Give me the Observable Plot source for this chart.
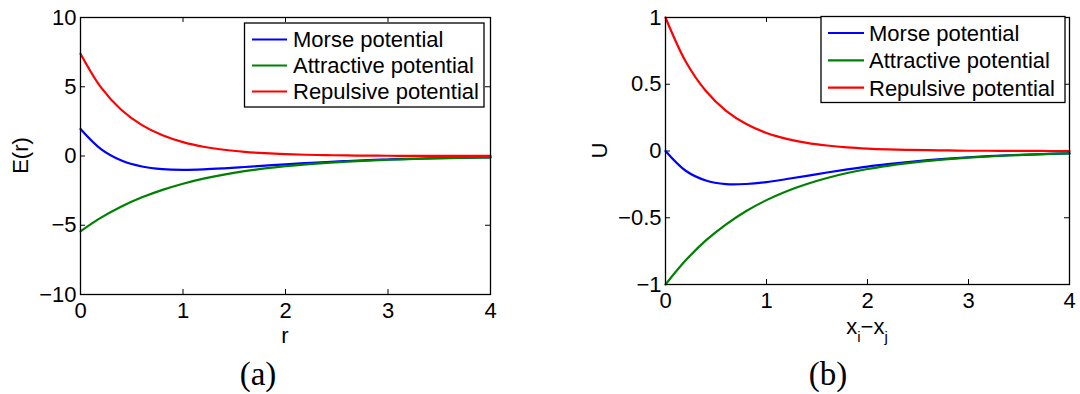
<!DOCTYPE html>
<html>
<head>
<meta charset="utf-8">
<script src="https://cdn.jsdelivr.net/npm/d3@7"></script>
<script src="https://cdn.jsdelivr.net/npm/@observablehq/plot@0.6"></script>
<style>
  body { margin: 0; background: #fff; }
  #fig { position: relative; width: 1080px; height: 394px; overflow: hidden; background: #fff; }
  #fig > .panel { position: absolute; top: 0; }
  #fig > svg.overlay { position: absolute; left: 0; top: 0; pointer-events: none; }
</style>
</head>
<body>
<div id="fig"></div>
<script>
// Series names and colours shared by both panels
const seriesNames = ["Morse potential", "Attractive potential", "Repulsive potential"];
const seriesColors = ["#0000ff", "#008000", "#ff0000"];

// Tick values
const xTicks = [0, 1, 2, 3, 4];
const yTicksA = [-10, -5, 0, 5, 10];
const yTicksB = [-1, -0.5, 0, 0.5, 1];

// Panel (a): E(r) against r
const rA = [0, 0.2, 0.4, 0.6, 0.8, 1.0, 1.2, 1.4, 1.6, 1.8, 2.0, 2.2, 2.4, 2.6, 2.8, 3.0, 3.2, 3.4, 3.6, 3.8, 4.0];
const morseA = [1.952, 0.502, -0.324, -0.758, -0.951, -1.0, -0.967, -0.891, -0.796, -0.697, -0.600, -0.512, -0.432, -0.363, -0.303, -0.252, -0.210, -0.173, -0.143, -0.118, -0.097];
const attractiveA = [-5.437, -4.451, -3.644, -2.984, -2.443, -2.0, -1.637, -1.341, -1.098, -0.899, -0.736, -0.602, -0.493, -0.404, -0.331, -0.271, -0.222, -0.181, -0.149, -0.122, -0.100];
const repulsiveA = [7.389, 4.953, 3.320, 2.226, 1.492, 1.0, 0.670, 0.449, 0.301, 0.202, 0.135, 0.091, 0.061, 0.041, 0.027, 0.018, 0.012, 0.008, 0.006, 0.004, 0.002];

// Panel (b): U against x_i - x_j
const xB = [0, 0.2, 0.4, 0.6, 0.8, 1.0, 1.2, 1.4, 1.6, 1.8, 2.0, 2.2, 2.4, 2.6, 2.8, 3.0, 3.2, 3.4, 3.6, 3.8, 4.0];
const morseB = [0, -0.148, -0.221, -0.248, -0.247, -0.233, -0.210, -0.186, -0.161, -0.138, -0.117, -0.099, -0.083, -0.069, -0.057, -0.047, -0.039, -0.032, -0.027, -0.022, -0.018];
const attractiveB = [-1, -0.819, -0.670, -0.549, -0.449, -0.368, -0.301, -0.247, -0.202, -0.165, -0.135, -0.111, -0.091, -0.074, -0.061, -0.050, -0.041, -0.033, -0.027, -0.022, -0.018];
const repulsiveB = [1, 0.670, 0.449, 0.301, 0.202, 0.135, 0.091, 0.061, 0.041, 0.027, 0.018, 0.012, 0.008, 0.006, 0.004, 0.002, 0.002, 0.001, 0.001, 0.000, 0.000];

const sansFont = "'Liberation Sans', Arial, Helvetica, sans-serif";
const serifFont = "'Liberation Serif', 'Times New Roman', serif";
const fontSize = 22;
const fmt = d => (d < 0 ? "\u2212" : "") + Math.abs(d);
const tickLen = 5;

function tidy(xs, seriesList) {
  const rows = [];
  seriesList.forEach((vals, k) => vals.forEach((v, i) => rows.push({x: xs[i], y: v, name: seriesNames[k]})));
  return rows;
}

function panel({xs, seriesList, yDomain, yTicks, width, height, m}) {
  const innerW = width - m.left - m.right;
  const innerH = height - m.top - m.bottom;
  return Plot.plot({
    width, height,
    marginLeft: m.left, marginRight: m.right, marginTop: m.top, marginBottom: m.bottom,
    x: {domain: [0, 4]},
    y: {domain: yDomain},
    color: {domain: seriesNames, range: seriesColors},
    style: {background: "transparent", color: "#000", fontFamily: sansFont, fontSize: fontSize + "px", overflow: "visible"},
    marks: [
      // inward ticks on all four sides
      Plot.ruleX(xTicks, {x: d => d, insetTop: innerH - tickLen, stroke: "#000"}),
      Plot.ruleX(xTicks, {x: d => d, insetBottom: innerH - tickLen, stroke: "#000"}),
      Plot.ruleY(yTicks, {y: d => d, insetRight: innerW - tickLen, stroke: "#000"}),
      Plot.ruleY(yTicks, {y: d => d, insetLeft: innerW - tickLen, stroke: "#000"}),
      Plot.axisX({ticks: xTicks, tickSize: 0, tickPadding: 8, label: null, tickFormat: fmt}),
      Plot.axisY({ticks: yTicks, tickSize: 0, tickPadding: 4, label: null, tickFormat: fmt}),
      Plot.line(tidy(xs, seriesList), {x: "x", y: "y", z: "name", stroke: "name", strokeWidth: 2.2, curve: "catmull-rom"}),
      Plot.frame({stroke: "#000", strokeWidth: 1.3})
    ]
  });
}

const fig = document.getElementById("fig");

const plotA = panel({
  xs: rA, seriesList: [morseA, attractiveA, repulsiveA],
  yDomain: [-10, 10], yTicks: yTicksA,
  width: 540, height: 340, m: {left: 80, right: 50, top: 17, bottom: 46}
});
plotA.classList.add("panel");
plotA.style.left = "0px";
fig.appendChild(plotA);

const plotB = panel({
  xs: xB, seriesList: [morseB, attractiveB, repulsiveB],
  yDomain: [-1, 1], yTicks: yTicksB,
  width: 540, height: 330, m: {left: 125, right: 11, top: 17, bottom: 46}
});
plotB.classList.add("panel");
plotB.style.left = "540px";
fig.appendChild(plotB);

// Axis titles, legends and panel captions
const ov = d3.select(fig).append("svg")
  .attr("class", "overlay")
  .attr("width", 1080).attr("height", 394)
  .attr("font-family", sansFont).attr("font-size", fontSize).attr("fill", "#000");

ov.append("text").attr("transform", "translate(28,155.5) rotate(-90)").attr("text-anchor", "middle").text("E(r)");
ov.append("text").attr("x", 285).attr("y", 343).attr("text-anchor", "middle").text("r");
ov.append("text").attr("transform", "translate(607,150.5) rotate(-90)").attr("text-anchor", "middle").text("U");

const xl = ov.append("text").attr("x", 867).attr("y", 334).attr("text-anchor", "middle");
xl.append("tspan").text("x");
xl.append("tspan").attr("dy", 8).attr("font-size", 15).text("i");
xl.append("tspan").attr("dy", -8).text("\u2212x");
xl.append("tspan").attr("dy", 8).attr("font-size", 15).text("j");

function legend(x, y, w, h, first, step, lineX0, lineX1, textX) {
  const g = ov.append("g");
  g.append("rect").attr("x", x).attr("y", y).attr("width", w).attr("height", h)
    .attr("fill", "#fff").attr("stroke", "#000").attr("stroke-width", 1.3);
  seriesNames.forEach((name, i) => {
    const cy = first + i * step;
    g.append("line").attr("x1", lineX0).attr("x2", lineX1).attr("y1", cy).attr("y2", cy)
      .attr("stroke", seriesColors[i]).attr("stroke-width", 2.2);
    g.append("text").attr("x", textX).attr("y", cy).attr("dy", "0.36em").text(name);
  });
}
legend(244.5, 23, 239.5, 84, 39.5, 26, 252, 287, 293);
legend(821, 16.5, 244, 86, 33, 27.3, 828, 864, 869);

ov.append("text").attr("x", 258).attr("y", 385).attr("text-anchor", "middle")
  .attr("font-family", serifFont).attr("font-size", 33).text("(a)");
ov.append("text").attr("x", 828).attr("y", 385).attr("text-anchor", "middle")
  .attr("font-family", serifFont).attr("font-size", 33).text("(b)");
</script>
</body>
</html>
